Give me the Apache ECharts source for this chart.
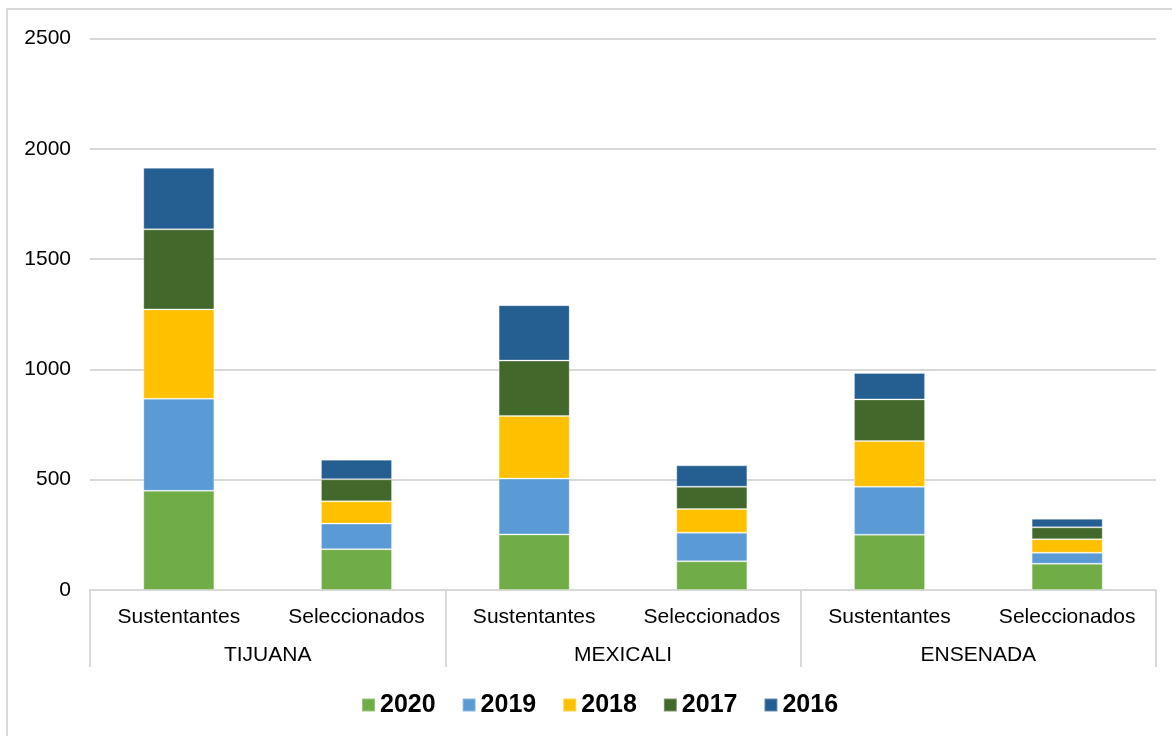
<!DOCTYPE html>
<html>
<head>
<meta charset="utf-8">
<script src="https://cdn.jsdelivr.net/npm/echarts@6/dist/echarts.min.js"></script>
<style>
  html, body { margin: 0; padding: 0; background: #fff; }
  #chart { width: 1172px; height: 736px; }
</style>
</head>
<body>
<div id="chart"></div>
<script>
// categorias
const cities = ["TIJUANA", "MEXICALI", "ENSENADA"];
const groups = ["Sustentantes", "Seleccionados", "Sustentantes", "Seleccionados", "Sustentantes", "Seleccionados"];
const years = ["2020", "2019", "2018", "2017", "2016"];
const yTicks = [0, 500, 1000, 1500, 2000, 2500];

// valores por año (apilados)
const v2020 = [450, 185, 252, 130, 251, 119];
const v2019 = [417, 116, 253, 130, 217, 50];
const v2018 = [405, 101, 284, 107, 207, 61];
const v2017 = [363, 100, 251, 101, 189, 54];
const v2016 = [279, 89, 251, 97, 120, 39];

const values = [v2020, v2019, v2018, v2017, v2016];
const colors = ["#70AD47", "#5B9BD5", "#FFC000", "#43682B", "#255E91"];
const font = "'Liberation Sans', Arial, sans-serif";

let myChart = echarts.init(document.getElementById("chart"));

myChart.setOption({
  animation: false,
  textStyle: { fontFamily: font },
  grid: {
    left: 90,
    right: 16,
    top: 38.5,
    bottom: 146,
    containLabel: false,
  },
  // borde exterior del grafico
  graphic: [
    {
      type: "rect",
      shape: { x: 7, y: 9, width: 1200, height: 800 },
      style: { fill: null, stroke: "#d9d9d9", lineWidth: 2 },
      silent: true,
    },
  ],
  legend: {
    data: years,
    left: 361,
    top: 692.5,
    padding: 0,
    icon: "rect",
    itemWidth: 13,
    itemHeight: 13,
    itemGap: 26,
    textStyle: { fontSize: 25, fontWeight: "bold", color: "#000", fontFamily: font },
  },
  xAxis: [
    {
      type: "category",
      data: groups,
      position: "bottom",
      axisLine: { show: true, lineStyle: { color: "#d9d9d9", width: 2 } },
      axisTick: { show: false },
      axisLabel: { fontSize: 21, color: "#000", margin: 17, interval: 0 },
    },
    {
      type: "category",
      data: cities,
      position: "bottom",
      axisLine: { show: false },
      axisTick: { show: true, length: 77, lineStyle: { color: "#d9d9d9", width: 2 } },
      axisLabel: { fontSize: 21, color: "#000", margin: 55, interval: 0 },
    },
  ],
  yAxis: {
    type: "value",
    min: yTicks[0],
    max: yTicks[yTicks.length - 1],
    interval: 500,
    axisLine: { show: false },
    axisTick: { show: false },
    axisLabel: { fontSize: 21, color: "#000", margin: 19, formatter: (v) => String(v) },
    splitLine: { lineStyle: { color: "#d9d9d9", width: 2 } },
  },
  series: years.map((y, i) => ({
    name: y,
    type: "bar",
    stack: "total",
    xAxisIndex: 0,
    barWidth: "40%",
    data: values[i],
    itemStyle: {
      color: colors[i],
      borderColor: "rgba(255,255,255,0.3)",
      borderWidth: 1,
    },
  })),
});
</script>
</body>
</html>
